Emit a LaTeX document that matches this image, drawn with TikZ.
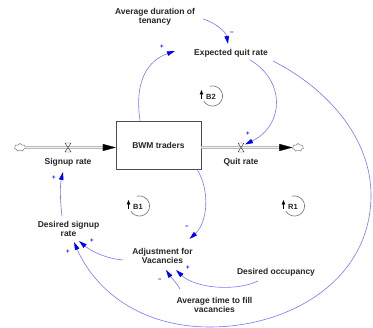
\documentclass[tikz,border=0pt]{standalone}
\usepackage{fontspec}
\setmainfont{Liberation Sans}
\usetikzlibrary{arrows.meta,shapes.symbols}
\definecolor{linkblue}{RGB}{120,120,255}
\definecolor{tipblue}{RGB}{0,0,255}
\begin{document}
\begin{tikzpicture}[x=1pt,y=-1pt,
  lbl/.style={font=\fontsize{8.5}{9}\selectfont\bfseries, align=center, inner sep=0pt, text=black!85},
  link/.style={draw=linkblue, line width=0.6pt, -{Triangle[length=8pt,width=4.5pt,color=tipblue]}},
  pol/.style={text=tipblue, font=\fontsize{6}{6}\selectfont\bfseries, inner sep=0pt},
  pipe/.style={draw=gray!75, line width=0.5pt, double=gray!12, double distance=1.8pt},
  valve/.style={draw=black!75, fill=white, line width=0.45pt},
  cloudnode/.style={cloud, cloud puffs=7, cloud ignores aspect, draw=black!60, line width=0.4pt, minimum width=11pt, minimum height=8pt, inner sep=0pt},
  looplbl/.style={font=\fontsize{7.5}{7.5}\selectfont\bfseries, inner sep=0pt, text=black!85},
  loopline/.style={draw=black!55, line width=0.6pt},
  looparrow/.style={draw=black, line width=0.7pt, -{Latex[length=5pt,width=4pt]}}
]
\fill[white] (0,0) rectangle (373,328);
\useasboundingbox (0,0) rectangle (373,328);

% text nodes
\node[lbl] (avgdur) at (155,16.5) {Average duration of\\tenancy};
\node[lbl] (eqr) at (231,53) {Expected quit rate};
\node[draw=black!70, line width=0.5pt, minimum width=85pt, minimum height=48pt, inner sep=0pt,
      font=\fontsize{8.5}{9}\selectfont\bfseries, text=black!85] (stock) at (158.5,145) {BWM traders};
\node[lbl] (signup) at (68,162) {Signup rate};
\node[lbl] (quit) at (241,162) {Quit rate};
\node[lbl] (dsr) at (68.5,228.5) {Desired signup\\rate};
\node[lbl] (adj) at (162.5,255.5) {Adjustment for\\Vacancies};
\node[lbl] (docc) at (276,272) {Desired occupancy};
\node[lbl] (avgtime) at (214.5,304.5) {Average time to fill\\vacancies};

% flows
\coordinate (sv) at (68,147.5);
\coordinate (qv) at (241,147.5);
\node[cloudnode] (lc) at (20,147.5) {};
\node[cloudnode] (rc) at (298,147.5) {};
\coordinate (sin) at (stock.west |- sv);
\coordinate (sout) at (stock.east |- qv);
\draw[pipe] (lc.east) -- ([shift={(-10,0)}]sin);
\draw[black, line width=0.2pt, -{Triangle[length=13pt,width=7pt]}] ([shift={(-12,0)}]sin) -- (sin);
\draw[pipe] (sout) -- ([shift={(-10,0)}]rc.west);
\draw[black, line width=0.2pt, -{Triangle[length=13pt,width=7pt]}] ([shift={(-12,0)}]rc.west) -- (rc.west);
\draw[valve] ([shift={(-3,-4.5)}]sv) -- ([shift={(3,-4.5)}]sv) -- ([shift={(-3,4.5)}]sv) -- ([shift={(3,4.5)}]sv) -- cycle;
\draw[valve] ([shift={(-3,-4.5)}]qv) -- ([shift={(3,-4.5)}]qv) -- ([shift={(-3,4.5)}]qv) -- ([shift={(3,4.5)}]qv) -- cycle;

% loop markers
\node[looplbl] (b2) at (211,97) {B2};
\node[looplbl] (b1) at (138,207) {B1};
\node[looplbl] (r1) at (293,207) {R1};
\foreach \n in {b2,b1,r1}{
  \begin{scope}[shift={(\n.center)}]
    \draw[loopline] plot[domain=-150:105, samples=40, smooth] ({1.5+10*cos(\x)},{-1-10*sin(\x)});
  \end{scope}
  \draw[looparrow] ([shift={(-9.5,2)}]\n.center) -- ([shift={(-9.5,-7.5)}]\n.center);
}

% links
\draw[link] ([shift={(48,2.5)}]avgdur.center) .. controls (216,23) and (226,32) .. ([shift={(-3,-9)}]eqr.center);
\draw[link] ([shift={(-18.5,0)}]stock.north) .. controls (133,72) and (155,58) .. ([shift={(-56,-2)}]eqr.center);
\draw[link] ([shift={(19,7)}]eqr.center) .. controls (285,80) and (285,125) .. ([shift={(4,-3)}]qv);
\draw[link] ([shift={(42,8)}]eqr.center) .. controls (330,90) and (371,140) .. (371,195)
   .. controls (371,280) and (290,327) .. (210,327)
   .. controls (140,327) and (95,290) .. ([shift={(5.5,13.5)}]dsr.center);
\draw[link] ([shift={(38.5,0)}]stock.south) .. controls (210,190) and (208,222) .. ([shift={(27,-16.5)}]adj.center);
\draw[link] ([shift={(-39.5,4.5)}]adj.center) .. controls (108,259) and (92,252) .. ([shift={(10.5,12.5)}]dsr.center);
\draw[link] ([shift={(-6.5,-12.5)}]dsr.center) .. controls (60,200) and (60,185) .. ([shift={(-5,10)}]signup.center);
\draw[link] ([shift={(-18,9)}]docc.center) .. controls (235,292) and (195,288) .. ([shift={(13.5,14.5)}]adj.center);
\draw[link] ([shift={(-34.5,-15.5)}]avgtime.center) .. controls (176,282) and (170,276) .. ([shift={(3.5,14.5)}]adj.center);

% polarities
\node[pol] (p1) at (232,33) {−};
\node[pol] (p2) at (162,47) {+};
\node[pol] (p3) at (248,134) {+};
\node[pol] (p4) at (68,252) {+};
\node[pol] (p5) at (187,227) {−};
\node[pol] (p6) at (92,241) {+};
\node[pol] (p7) at (54,178) {+};
\node[pol] (p8) at (188,268) {+};
\node[pol] (p9) at (160,280) {−};
\end{tikzpicture}
\end{document}
